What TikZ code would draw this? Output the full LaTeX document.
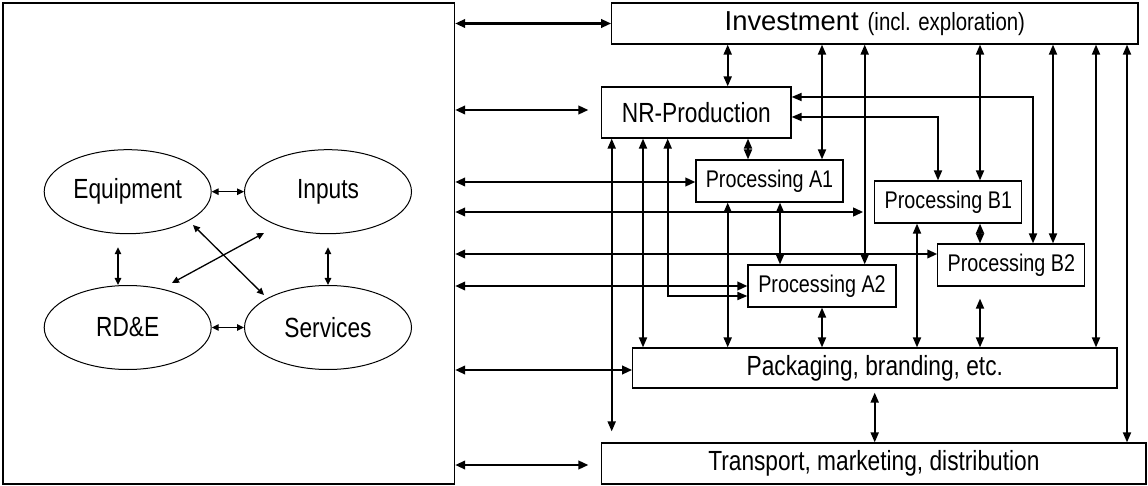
\documentclass[tikz,border=0pt]{standalone}
\usepackage{fontspec}
\setmainfont{Liberation Sans}
\newfontfamily\nar[FakeStretch=0.82]{Liberation Sans}
\usetikzlibrary{arrows.meta,shapes.geometric}
\begin{document}
\begin{tikzpicture}[x=1pt,y=-1pt,
  box/.style={draw,line width=1.2pt,inner sep=0pt,rectangle},
  bigtxt/.style={font=\nar\fontsize{27.7}{30}\selectfont},
  proc/.style={box,minimum width=147pt,minimum height=42pt,font=\nar\fontsize{24.1}{26}\selectfont},
  ell/.style={draw,ellipse,line width=1pt,minimum width=167pt,minimum height=84pt,inner sep=0pt,bigtxt},
  arr/.style={line width=1.8pt,{Triangle[length=10pt,width=8pt]}-{Triangle[length=10pt,width=8pt]}},
  larr/.style={line width=2.2pt,{Triangle[length=10pt,width=8.5pt]}-{Triangle[length=10pt,width=8.5pt]}},
  earr/.style={line width=1.3pt,{Triangle[length=7pt,width=6.5pt]}-{Triangle[length=7pt,width=6.5pt]}}]
\useasboundingbox (0,0) rectangle (1148,486);

% ---- left block ----
\node[box,minimum width=451.6pt,minimum height=481pt] (left) at (228.8,243.5) {};
\node[ell] (eq) at (127.7,191.7) {Equipment};
\node[ell] (inp) at (328,191.7) {Inputs};
\node[ell] (rde) at (127.7,327.5) {RD\&E};
\node[ell] (serv) at (328,327.5) {Services};

\coordinate (eqd) at (193,225);
\coordinate (servd) at (264,295);
\coordinate (inpd) at (264,233);
\coordinate (rded) at (172,283);
\coordinate (cv1) at (118,0);

\draw[earr] (eq.east) -- (inp.west);
\draw[earr] (rde.east) -- (serv.west);
\draw[earr,shorten <=13pt] (eq.south -| cv1) -- (rde.north -| cv1);
\draw[earr,shorten <=13pt] (inp.south) -- (serv.north);
\draw[earr] (eqd) -- (servd);
\draw[earr] (inpd) -- (rded);

% ---- right block ----
\node[box,minimum width=526.3pt,minimum height=41pt] (inv) at (874.85,23.5)
  {{\fontsize{27.4}{30}\selectfont Investment}\hspace{9pt}{\nar\fontsize{24.9}{27}\selectfont (incl. exploration)}};
\node[box,minimum width=189.3pt,minimum height=51pt,bigtxt] (nr) at (696.35,112.5) {NR-Production};
\node[proc] (a1) at (769.5,181) {Processing A1};
\node[proc] (b1) at (948.35,202) {Processing B1};
\node[proc] (b2) at (1011.35,265) {Processing B2};
\node[proc,minimum width=148pt] (a2) at (822,286) {Processing A2};
\node[box,minimum width=484.3pt,minimum height=40pt,bigtxt] (pack) at (874.85,368) {Packaging, branding, etc.};
\node[box,minimum width=544.3pt,minimum height=41pt,bigtxt] (trans) at (873.85,463.5) {Transport, marketing, distribution};

% columns
\coordinate (cA) at (611.7,0);
\coordinate (cB) at (643,0);
\coordinate (cC) at (667.7,0);
\coordinate (cD) at (727.7,0);
\coordinate (cE) at (748,0);
\coordinate (cF) at (780,0);
\coordinate (cG) at (822,0);
\coordinate (cH) at (864.7,0);
\coordinate (cI) at (874.7,0);
\coordinate (cJ) at (917,0);
\coordinate (cK) at (938,0);
\coordinate (cL) at (980,0);
\coordinate (cM) at (1033,0);
\coordinate (cN) at (1053,0);
\coordinate (cO) at (1096,0);
\coordinate (cP) at (1127,0);
% rows
\coordinate (r97) at (0,97);
\coordinate (r110) at (0,110);
\coordinate (r117) at (0,117);
\coordinate (r182) at (0,182);
\coordinate (r212) at (0,212);
\coordinate (r254) at (0,254);
\coordinate (r286) at (0,286);
\coordinate (r296) at (0,296);
\coordinate (r370) at (0,370);
\coordinate (r465) at (0,465);

% from Investment
\draw[arr] (cD |- inv.south) -- (cD |- nr.north);
\draw[arr] (cG |- inv.south) -- (cG |- a1.north);
\draw[arr] (cH |- inv.south) -- (cH |- a2.north);
\draw[arr] (cL |- inv.south) -- (cL |- b1.north);
\draw[arr] (cN |- inv.south) -- (cN |- b2.north);
\draw[arr] (cO |- inv.south) -- (cO |- pack.north);
\draw[arr] (cP |- inv.south) -- (cP |- trans.north);
% from NR-Production
\draw[arr] (nr.east |- r97) -| (cM |- b2.north);
\draw[arr] (nr.east |- r117) -| (cK |- b1.north);
\draw[arr] (cE |- nr.south) -- (cE |- a1.north);
\draw[arr,shorten >=11pt] (cA |- nr.south) -- (cA |- trans.north);
\draw[arr] (cB |- nr.south) -- (cB |- pack.north);
\draw[arr] (cC |- nr.south) |- (a2.west |- r296);
% processing
\draw[arr] (cD |- a1.south) -- (cD |- pack.north);
\draw[arr] (cF |- a1.south) -- (cF |- a2.north);
\draw[arr] (cG |- a2.south) -- (cG |- pack.north);
\draw[arr] (cJ |- b1.south) -- (cJ |- pack.north);
\draw[arr] (cL |- b1.south) -- (cL |- b2.north);
\draw[arr,shorten <=12pt] (cL |- b2.south) -- (cL |- pack.north);
\draw[arr,shorten <=4pt] (cI |- pack.south) -- (cI |- trans.north);

% from left block
\draw[larr] (left.east |- inv.west) -- (inv.west);
\draw[larr,shorten >=12.7pt] (left.east |- r110) -- (nr.west |- r110);
\draw[larr] (left.east |- r182) -- (a1.west |- r182);
\draw[larr,shorten >=1.5pt] (left.east |- r212) -- (cH |- r212);
\draw[larr] (left.east |- r254) -- (b2.west |- r254);
\draw[larr] (left.east |- r286) -- (a2.west |- r286);
\draw[larr] (left.east |- r370) -- (pack.west |- r370);
\draw[larr,shorten >=12.7pt] (left.east |- r465) -- (trans.west |- r465);
\end{tikzpicture}
\end{document}
